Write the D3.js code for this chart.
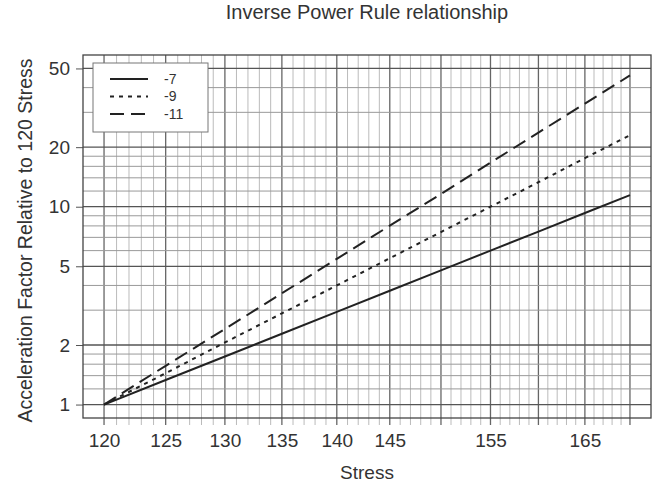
<!DOCTYPE html>
<html>
<head>
<meta charset="utf-8">
<script src="https://cdn.jsdelivr.net/npm/d3@7"></script>
<style>
	body { margin: 0; background: white; }
	text { font-family: "Liberation Sans", Arial, sans-serif; fill: #333; }
</style>
</head>
<body>
<svg id="chart" width="657" height="487"></svg>
<script>

//DATA

var stress = [120, 125, 130, 135, 140, 145, 150, 155, 160, 165, 170];
var factorMinus7 = [1, 1.33, 1.75, 2.28, 2.94, 3.76, 4.77, 6.0, 7.49, 9.29, 11.45];
var factorMinus9 = [1, 1.44, 2.06, 2.89, 4.0, 5.49, 7.45, 10.0, 13.3, 17.6, 23.0];
var factorMinus11 = [1, 1.57, 2.41, 3.65, 5.45, 8.02, 11.6, 16.7, 23.7, 33.2, 46.1];

var seriesNames = ["-7", "-9", "-11"];
var xTickLabels = [120, 125, 130, 135, 140, 145, 155, 165];
var yTickLabels = [1, 2, 5, 10, 20, 50];

var series = [
	{ name: seriesNames[0], values: factorMinus7, dash: null },
	{ name: seriesNames[1], values: factorMinus9, dash: "4,5" },
	{ name: seriesNames[2], values: factorMinus11, dash: "14,7" }
];

//LAYOUT

var margin = { top: 55, left: 83 };
var width = 568;
var height = 363;

var svg = d3.select("#chart");

var g = svg.append("g")
	.attr("transform", "translate(" + margin.left + "," + margin.top + ")");

//scales: both log, with R-style 4% padding around xlim = 120..170 and ylim = 1..50
var xPad = 0.04 * Math.log10(170 / 120);
var yPad = 0.04 * Math.log10(50 / 1);

var xScale = d3.scaleLog()
	.domain([120 / Math.pow(10, xPad), 170 * Math.pow(10, xPad)])
	.range([0, width]);

var yScale = d3.scaleLog()
	.domain([1 / Math.pow(10, yPad), 50 * Math.pow(10, yPad)])
	.range([height, 0]);

//GRID

var xGrid = d3.range(120, 171, 1);
var yGrid = [1, 1.2, 1.4, 1.6, 1.8, 2, 3, 4, 5, 6, 7, 8, 9, 10, 12, 14, 16, 18, 20, 30, 40, 50];

g.selectAll("line.vgrid")
	.data(xGrid)
	.enter()
	.append("line")
	.attr("class", "vgrid")
	.attr("x1", d => xScale(d))
	.attr("x2", d => xScale(d))
	.attr("y1", 0)
	.attr("y2", height + 7)
	.attr("stroke", d => d % 5 === 0 ? "#666" : "#bbb")
	.attr("stroke-width", d => d % 5 === 0 ? 1.3 : 1);

g.selectAll("line.hgrid")
	.data(yGrid)
	.enter()
	.append("line")
	.attr("class", "hgrid")
	.attr("x1", 0)
	.attr("x2", width)
	.attr("y1", d => yScale(d))
	.attr("y2", d => yScale(d))
	.attr("stroke", d => yTickLabels.indexOf(d) >= 0 ? "#555" : "#999")
	.attr("stroke-width", d => yTickLabels.indexOf(d) >= 0 ? 1.3 : 1);

//axes
var xAxis = d3.axisBottom()
	.scale(xScale)
	.tickValues(xTickLabels)
	.tickFormat(d3.format("d"))
	.tickSize(0)
	.tickPadding(16);

g.append("g")
	.attr("class", "xAxis")
	.attr("transform", "translate(0," + height + ")")
	.call(xAxis);

var yAxis = d3.axisLeft()
	.scale(yScale)
	.tickValues(yTickLabels)
	.tickFormat(d3.format("d"))
	.tickSize(7)
	.tickPadding(6);

g.append("g")
	.attr("class", "yAxis")
	.call(yAxis);

g.selectAll(".domain").remove();
g.selectAll(".tick text")
	.attr("font-size", 19)
	.attr("font-family", "Liberation Sans, Arial, sans-serif")
	.attr("fill", "#333");
g.selectAll(".yAxis .tick line").attr("stroke", "#555");

//box
g.append("rect")
	.attr("width", width)
	.attr("height", height)
	.attr("fill", "none")
	.attr("stroke", "#444")
	.attr("stroke-width", 1.3);

//LINES

var line = d3.line()
	.x((d, i) => xScale(stress[i]))
	.y(d => yScale(d));

g.selectAll("path.curve")
	.data(series)
	.enter()
	.append("path")
	.attr("class", "curve")
	.attr("d", d => line(d.values))
	.attr("fill", "none")
	.attr("stroke", "#222")
	.attr("stroke-width", 2)
	.attr("stroke-dasharray", d => d.dash);

//LEGEND

var legend = svg.append("g")
	.attr("transform", "translate(93,63)");

legend.append("rect")
	.attr("width", 115)
	.attr("height", 69)
	.attr("fill", "white")
	.attr("stroke", "#777");

var rows = legend.selectAll("g.row")
	.data(series)
	.enter()
	.append("g")
	.attr("class", "row")
	.attr("transform", (d, i) => "translate(0," + (16 + i * 17.5) + ")");

rows.append("line")
	.attr("x1", 17)
	.attr("x2", 55)
	.attr("stroke", "#222")
	.attr("stroke-width", 2)
	.attr("stroke-dasharray", d => d.dash);

rows.append("text")
	.attr("x", 71)
	.attr("dy", "0.35em")
	.attr("font-size", 14)
	.text(d => d.name);

//TITLES

svg.append("text")
	.attr("x", margin.left + width / 2)
	.attr("y", 19)
	.attr("text-anchor", "middle")
	.attr("font-size", 20)
	.text("Inverse Power Rule relationship");

svg.append("text")
	.attr("x", margin.left + width / 2)
	.attr("y", 479)
	.attr("text-anchor", "middle")
	.attr("font-size", 19)
	.text("Stress");

svg.append("text")
	.attr("transform", "translate(32," + (margin.top + height / 2 + 4) + ") rotate(-90)")
	.attr("text-anchor", "middle")
	.attr("font-size", 19.5)
	.text("Acceleration Factor Relative to 120 Stress");

</script>
</body>
</html>
